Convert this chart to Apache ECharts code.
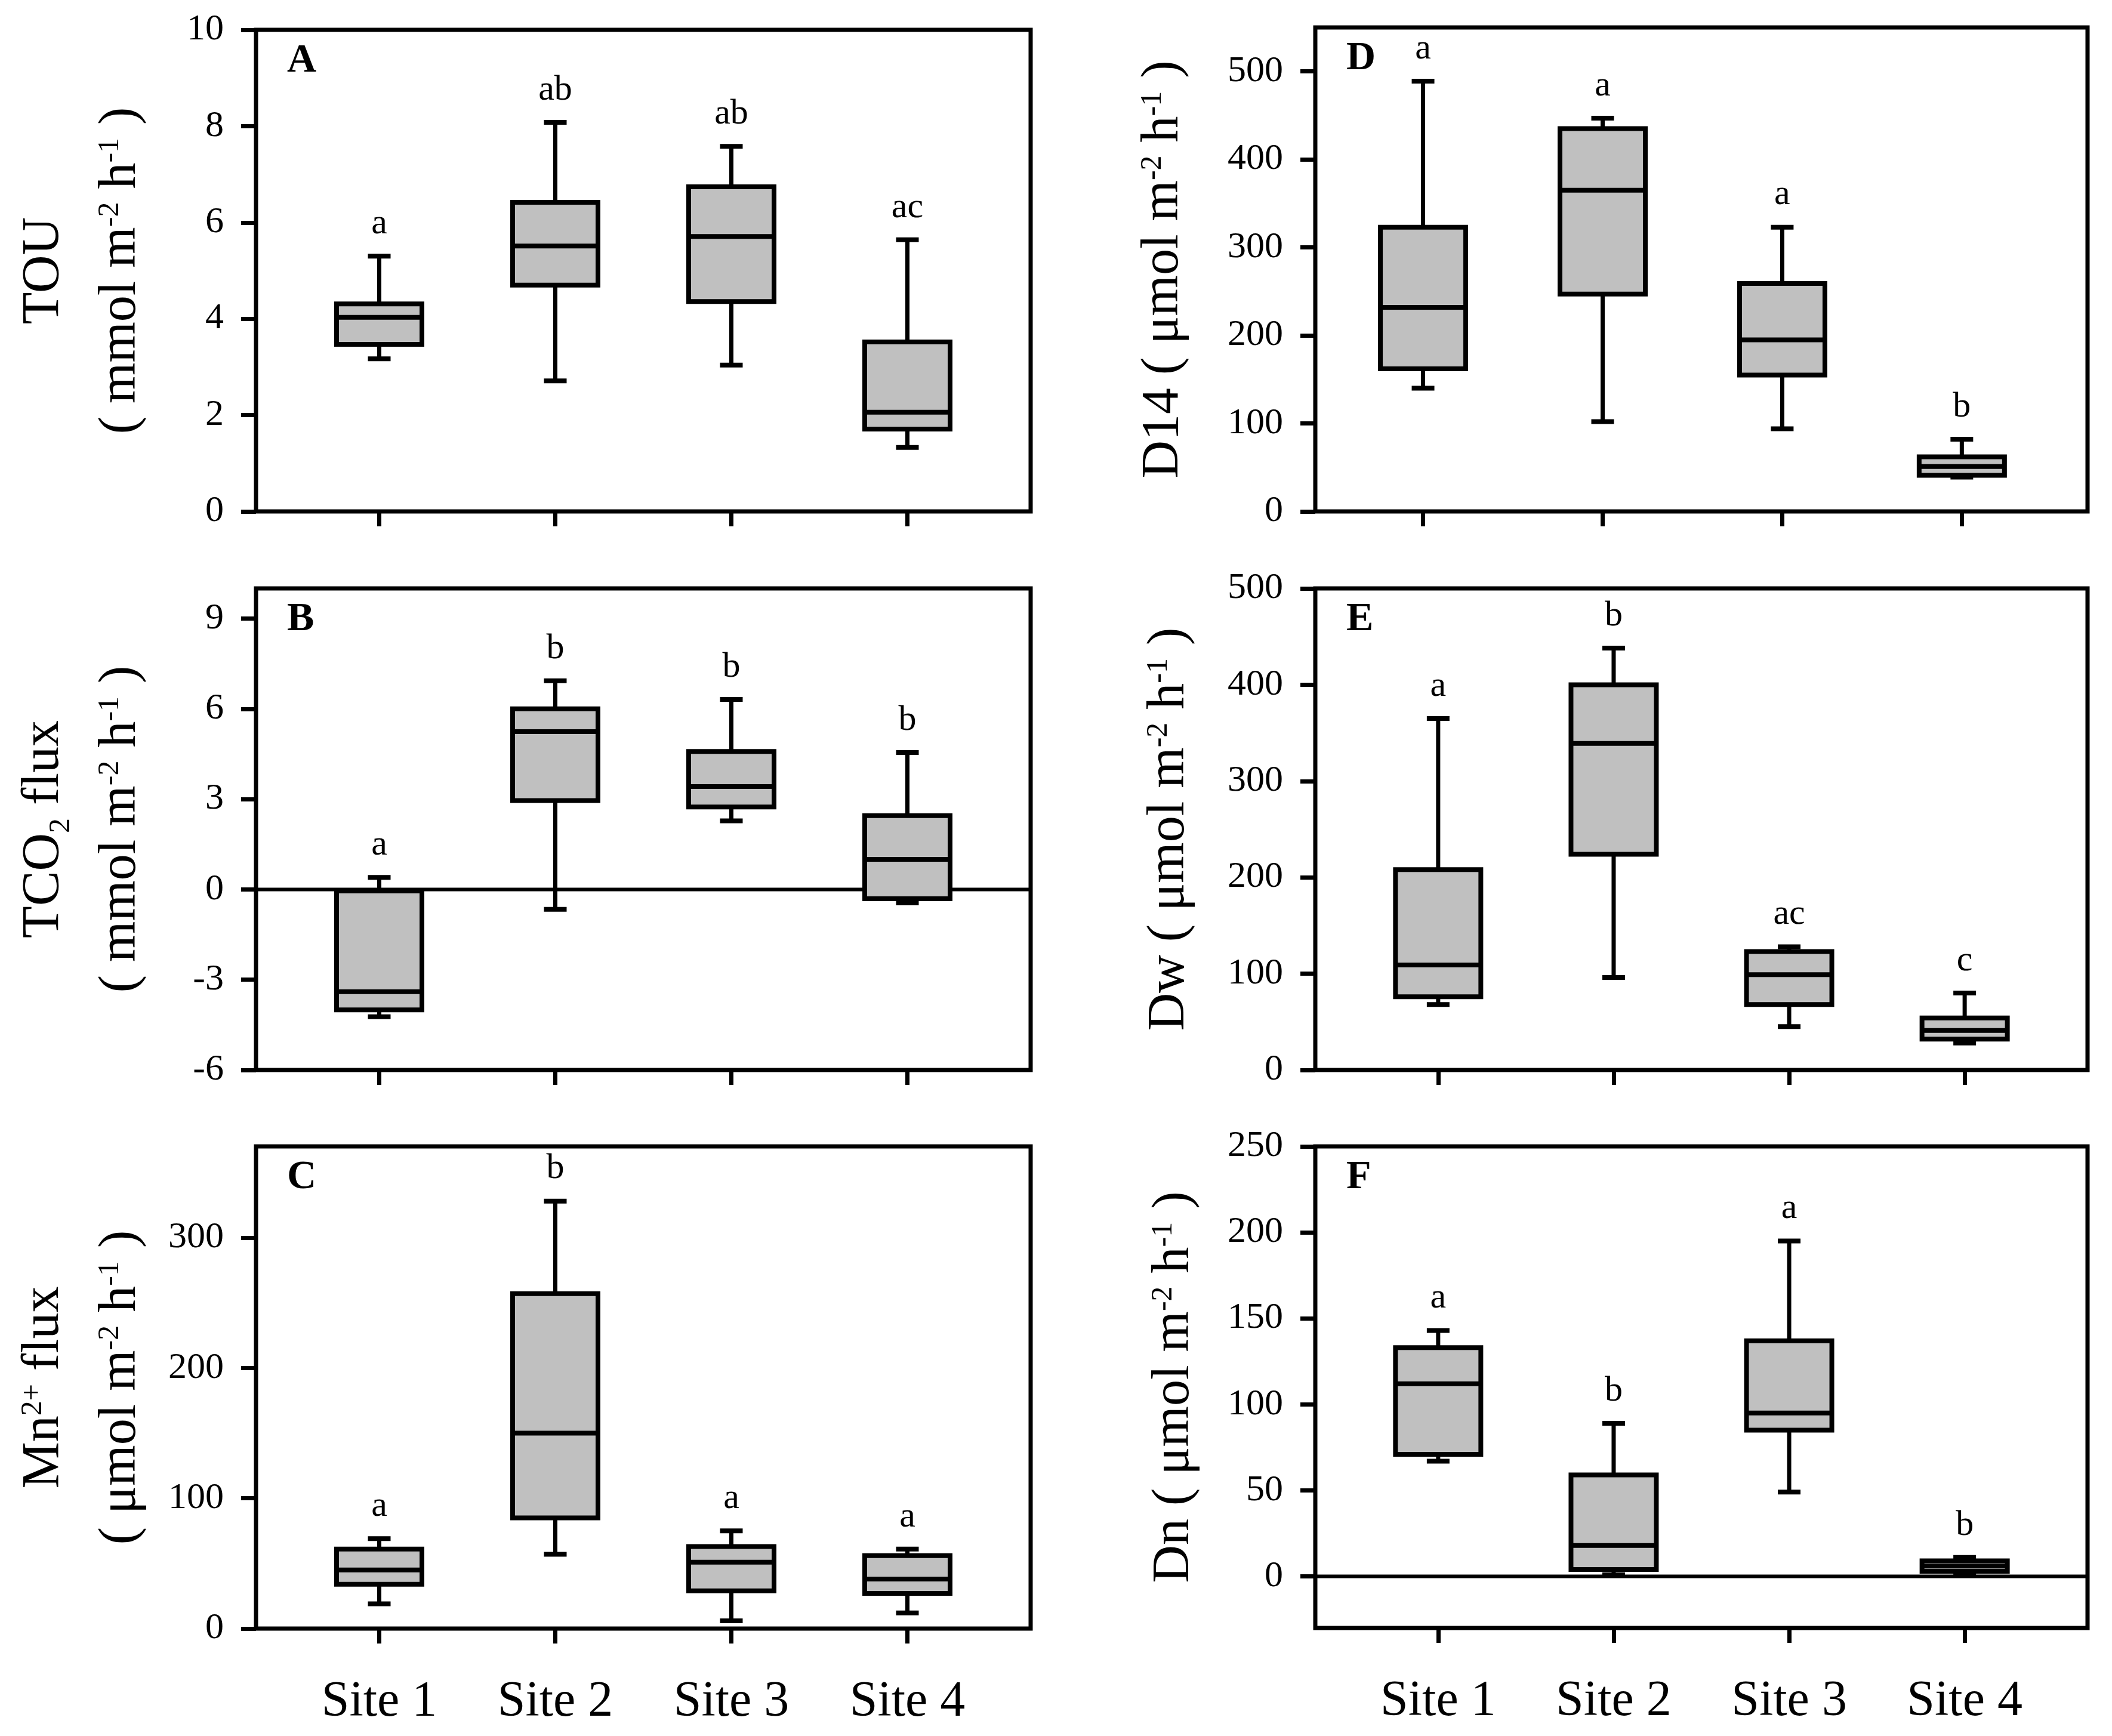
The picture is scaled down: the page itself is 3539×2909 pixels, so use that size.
<!DOCTYPE html>
<html>
<head>
<meta charset="utf-8">
<script src="https://cdn.jsdelivr.net/npm/echarts@6/dist/echarts.min.js"></script>
<style>
  html, body { margin: 0; padding: 0; background: #fff; }
  #chart { width: 3539px; height: 2909px; }
</style>
</head>
<body>
<div id="chart"></div>
<script>
const sites = ['Site 1', 'Site 2', 'Site 3', 'Site 4'];
const sitePos = [1, 2, 3, 4];

// each row: [min, q1, median, q3, max]
const touBox = [[3.17, 3.47, 4.03, 4.31, 5.30], [2.71, 4.70, 5.51, 6.42, 8.08], [3.04, 4.36, 5.71, 6.74, 7.58], [1.33, 1.71, 2.06, 3.52, 5.64]];
const touLetters = ['a', 'ab', 'ab', 'ac'];
const touTicks = [0, 2, 4, 6, 8, 10];

const tco2Box = [[-4.23, -4.00, -3.40, -0.05, 0.40], [-0.66, 2.95, 5.24, 6.00, 6.93], [2.28, 2.74, 3.42, 4.58, 6.31], [-0.45, -0.31, 1.00, 2.45, 4.55]];
const tco2Letters = ['a', 'b', 'b', 'b'];
const tco2Ticks = [-6, -3, 0, 3, 6, 9];

const mnBox = [[19, 34, 45, 61, 69], [57, 85, 150, 257, 328], [6, 29, 51, 63, 75], [12, 27, 38, 56, 61]];
const mnLetters = ['a', 'b', 'a', 'a'];
const mnTicks = [0, 100, 200, 300];

const d14Box = [[140, 162, 232, 323, 489], [102, 247, 365, 435, 447], [94, 155, 195, 259, 323], [39, 41, 51, 62, 82]];
const d14Letters = ['a', 'a', 'a', 'b'];
const d14Ticks = [0, 100, 200, 300, 400, 500];

const dwBox = [[68, 76, 109, 208, 365], [96, 224, 339, 400, 438], [45, 68, 99, 123, 128], [28, 32, 41, 54, 80]];
const dwLetters = ['a', 'b', 'ac', 'c'];
const dwTicks = [0, 100, 200, 300, 400, 500];

const dnBox = [[67, 71, 112, 133, 143], [1, 4, 18, 59, 89], [49, 85, 95, 137, 195], [1, 3, 6, 9, 11]];
const dnLetters = ['a', 'b', 'a', 'b'];
const dnTicks = [0, 50, 100, 150, 200, 250];

const FONT = 'Liberation Serif';
const BOX_W = 143;
const CAP_W = 38;

const units = '{t|( mmol m}{sup|-2}{t| h}{sup|-1}{t| )}';
const unitsMu = '{t|( μmol m}{sup|-2}{t| h}{sup|-1}{t| )}';

const panels = [
  { key: 'A', box: touBox, letters: touLetters, ticks: touTicks, yMin: 0, yMax: 10,
    name: '{t|TOU}\n' + units, left: 429, top: 50, width: 1298, height: 807, xMin: 0.3, xMax: 4.7, nameGap: 162 },
  { key: 'B', box: tco2Box, letters: tco2Letters, ticks: tco2Ticks, yMin: -6, yMax: 10, zero: true,
    name: '{t|TCO}{sub|2}{t| flux}\n' + units, left: 429, top: 986, width: 1298, height: 807, xMin: 0.3, xMax: 4.7, nameGap: 162 },
  { key: 'C', box: mnBox, letters: mnLetters, ticks: mnTicks, yMin: 0, yMax: 370, sitesShown: true,
    name: '{t|Mn}{sup|2+}{t| flux}\n' + unitsMu, left: 429, top: 1921, width: 1298, height: 808, xMin: 0.3, xMax: 4.7, nameGap: 162 },
  { key: 'D', box: d14Box, letters: d14Letters, ticks: d14Ticks, yMin: 0, yMax: 550,
    name: '{t|D14 ( μmol m}{sup|-2}{t| h}{sup|-1}{t| )}', left: 2204, top: 46, width: 1294, height: 811, xMin: 0.4, xMax: 4.7, nameGap: 190 },
  { key: 'E', box: dwBox, letters: dwLetters, ticks: dwTicks, yMin: 0, yMax: 500,
    name: '{t|Dw ( μmol m}{sup|-2}{t| h}{sup|-1}{t| )}', left: 2204, top: 986, width: 1294, height: 807, xMin: 0.3, xMax: 4.7, nameGap: 180 },
  { key: 'F', box: dnBox, letters: dnLetters, ticks: dnTicks, yMin: -30, yMax: 250, zero: true, sitesShown: true,
    name: '{t|Dn ( μmol m}{sup|-2}{t| h}{sup|-1}{t| )}', left: 2204, top: 1921, width: 1294, height: 807, xMin: 0.3, xMax: 4.7, nameGap: 172 }
];

function boxRenderer(letters) {
  return function (params, api) {
    const x = api.value(0);
    const lo = api.coord([x, api.value(1)]);
    const q1 = api.coord([x, api.value(2)]);
    const md = api.coord([x, api.value(3)]);
    const q3 = api.coord([x, api.value(4)]);
    const hi = api.coord([x, api.value(5)]);
    const cx = lo[0];
    const hw = BOX_W / 2, cw = CAP_W / 2;
    const ink = { stroke: '#000', lineWidth: 7 };
    const thick = { stroke: '#000', lineWidth: 8 };
    return {
      type: 'group',
      children: [
        { type: 'line', shape: { x1: cx, y1: hi[1], x2: cx, y2: q3[1] }, style: ink },
        { type: 'line', shape: { x1: cx, y1: q1[1], x2: cx, y2: lo[1] }, style: ink },
        { type: 'line', shape: { x1: cx - cw, y1: hi[1], x2: cx + cw, y2: hi[1] }, style: thick },
        { type: 'line', shape: { x1: cx - cw, y1: lo[1], x2: cx + cw, y2: lo[1] }, style: thick },
        { type: 'rect', shape: { x: cx - hw, y: q3[1], width: BOX_W, height: q1[1] - q3[1] },
          style: { fill: '#c0c0c0', stroke: '#000', lineWidth: 8 } },
        { type: 'line', shape: { x1: cx - hw, y1: md[1], x2: cx + hw, y2: md[1] }, style: thick },
        { type: 'text', style: { text: letters[params.dataIndex], x: cx, y: hi[1] - 54,
          align: 'center', verticalAlign: 'middle', font: '60px "' + FONT + '"', fill: '#000' } }
      ]
    };
  };
}

const tickLine = { color: '#000', width: 7 };
const grid = [], xAxis = [], yAxis = [], series = [];

panels.forEach(function (p, i) {
  grid.push({ left: p.left, top: p.top, width: p.width, height: p.height, show: true,
    borderColor: '#000', borderWidth: 7, backgroundColor: 'transparent', outerBoundsMode: 'none' });
  xAxis.push({
    gridIndex: i, type: 'value', min: p.xMin, max: p.xMax, position: 'bottom',
    axisLine: { show: false, onZero: false }, splitLine: { show: false },
    axisTick: { show: true, length: 25, customValues: sitePos, lineStyle: tickLine },
    axisLabel: { show: !!p.sitesShown, customValues: sitePos, margin: 82,
      formatter: function (v) { return sites[Math.round(v) - 1]; },
      fontFamily: FONT, fontSize: 84, color: '#000' }
  });
  yAxis.push({
    gridIndex: i, type: 'value', min: p.yMin, max: p.yMax, position: 'left',
    axisLine: { show: false, onZero: false }, splitLine: { show: false },
    axisTick: { show: true, length: 25, customValues: p.ticks, lineStyle: tickLine },
    axisLabel: { customValues: p.ticks, margin: 54, fontFamily: FONT, fontSize: 62, color: '#000' },
    name: p.name, nameLocation: 'middle', nameGap: p.nameGap, nameRotate: 90,
    nameTextStyle: {
      color: '#000', fontFamily: FONT,
      rich: {
        t: { fontFamily: FONT, fontSize: 88, lineHeight: 129, color: '#000' },
        sup: { fontFamily: FONT, fontSize: 50, lineHeight: 50, padding: [0, 0, 36, 0], color: '#000' },
        sub: { fontFamily: FONT, fontSize: 50, lineHeight: 50, padding: [58, 0, 0, 0], color: '#000' }
      }
    }
  });
  if (p.zero) {
    series.push({
      type: 'line', xAxisIndex: i, yAxisIndex: i, silent: true, symbol: 'none', z: 3,
      data: [[p.xMin, 0], [p.xMax, 0]],
      lineStyle: { color: '#000', width: 6 }
    });
  }
  series.push({
    type: 'custom', xAxisIndex: i, yAxisIndex: i, z: 4,
    renderItem: boxRenderer(p.letters),
    encode: { x: 0, y: [1, 2, 3, 4, 5] },
    data: p.box.map(function (b, k) { return [sitePos[k]].concat(b); })
  });
});

const chart = echarts.init(document.getElementById('chart'));
chart.setOption({
  animation: false,
  backgroundColor: '#fff',
  grid: grid,
  xAxis: xAxis,
  yAxis: yAxis,
  series: series,
  graphic: panels.map(function (p) {
    return { type: 'text', x: p.left + 52, y: p.top + 18, z: 100,
      style: { text: p.key, font: 'bold 68px "' + FONT + '"', fill: '#000', verticalAlign: 'top' } };
  })
});
</script>
</body>
</html>
